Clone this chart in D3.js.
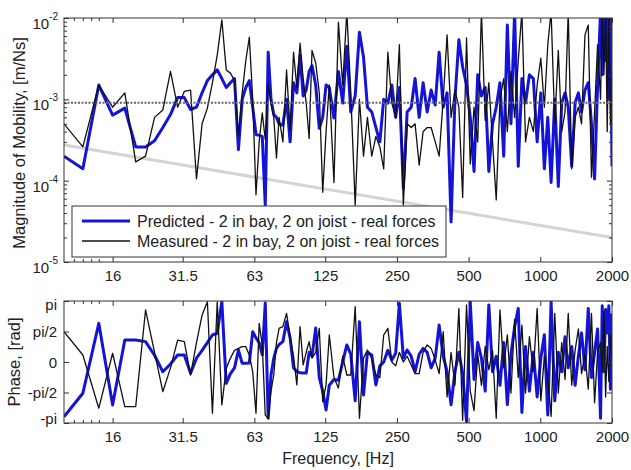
<!DOCTYPE html>
<html>
<head>
<meta charset="utf-8">
<script src="https://cdn.jsdelivr.net/npm/d3@7"></script>
<style>
  body { margin: 0; background: #fff; }
  text { font-family: "Liberation Sans", Arial, sans-serif; fill: #222; }
</style>
</head>
<body>
<div id="chart"></div>
<script>
// frequency grid, Hz
var freq = [10,12,14,16,18,20,22,24,26,28,30,32,34,36,38,40,42,44,46,48,50,52,
  54,56,58,60,62,64,66,68,70,72,74,76,78,80,83,86,89,92,95,98,101,104,107,110,114,118,122,126,130,
  136,142,148,154,160,167,174,181,188,196,204,212,220,229,238,247,256,266,276,287,298,310,322,335,348,
  362,376,391,406,422,438,455,472,490,508,527,546,566,587,608,630,653,677,702,727,753,780,808,837,867,
  900,935,970,1005,1040,1075,1110,1150,1190,1230,1270,1310,1355,1400,1445,1490,1540,1590,1640,1690,1740,1790,1820,1850,1880,1910,1940,1970,2000];

// mobility magnitude, m/Ns
var magPredicted = [2.0e-4,1.4e-4,1.5e-3,6.4e-4,7.8e-4,2.6e-4,2.6e-4,3.1e-4,4.5e-4,6.5e-4,1.05e-3,1.05e-3,7.5e-4,8.0e-4,1.2e-3,1.7e-3,2.0e-3,2.3e-3,1.8e-3,1.4e-3,1.6e-3,1.8e-3,
  2.4e-4,1.0e-3,1.4e-3,1.7e-3,8.0e-4,3.7e-4,3.6e-4,3.5e-4,5.0e-5,3.8e-3,1.0e-3,6.5e-4,6.0e-4,5.0e-4,4.8e-4,1.0e-3,3.0e-4,1.6e-3,1.2e-3,3.5e-3,1.1e-3,1.3e-3,2.2e-3,2.6e-3,1.5e-3,4.4e-4,6.0e-4,1.5e-3,1.4e-3,
  5.9e-4,2.2e-3,9.0e-4,4.5e-3,7.0e-4,1.1e-3,6.7e-3,3.3e-3,8.0e-4,7.0e-4,4.5e-4,3.0e-4,1.0e-3,9.0e-4,1.5e-3,6.0e-4,1.4e-3,8.0e-5,7.0e-4,8.0e-4,1.8e-3,6.0e-4,1.6e-3,7.0e-4,1.3e-3,
  8.5e-4,3.8e-3,8.0e-4,1.2e-3,3.1e-5,1.0e-3,5.4e-3,2.5e-3,1.5e-3,6.0e-4,1.3e-4,2.0e-3,1.1e-3,1.4e-3,1.3e-4,5.0e-4,8.0e-4,1.6e-3,2.0e-4,8.2e-3,5.0e-4,1.2e-2,1.5e-4,1.8e-3,9.0e-4,
  2.0e-3,1.8e-3,3.0e-4,1.2e-3,1.4e-4,6.0e-4,9.5e-5,1.0e-3,8.5e-5,9.0e-4,1.2e-3,8.0e-4,1.5e-4,9.0e-4,1.2e-3,7.0e-4,1.3e-3,1.6e-3,5.0e-4,1.05e-4,1.5e-3,1.2e-2,2.0e-3,1.2e-2,3.0e-3,1.2e-2,1.0e-3,1.2e-2,1.5e-4];

var magMeasured = [5.0e-4,2.6e-4,1.5e-3,8.0e-4,1.2e-3,1.7e-4,2.0e-4,6.0e-4,7.4e-4,2.2e-3,8.0e-4,1.25e-3,1.3e-3,1.05e-4,5.0e-4,7.8e-4,1.6e-3,3.5e-3,9.5e-3,2.3e-3,2.1e-3,1.7e-3,
  3.5e-4,1.2e-3,3.0e-3,5.8e-3,1.0e-3,6.7e-5,3.0e-4,6.8e-4,3.2e-4,1.5e-3,9.0e-4,6.0e-4,1.9e-4,6.0e-4,3.0e-4,2.3e-3,4.2e-4,3.8e-3,1.4e-3,4.9e-3,1.8e-3,9.0e-4,3.3e-4,4.0e-3,2.8e-3,1.2e-3,7.2e-5,4.0e-4,1.5e-3,
  9.5e-5,8.9e-3,1.5e-3,1.2e-2,1.2e-3,5.0e-5,1.0e-3,2.0e-4,6.0e-4,2.0e-4,3.5e-4,2.6e-4,1.4e-4,3.8e-3,9.0e-4,6.0e-4,4.7e-3,5.0e-5,5.0e-4,4.5e-4,5.0e-4,1.55e-4,4.0e-4,4.5e-4,4.5e-4,
  3.0e-4,2.0e-4,1.0e-3,6.2e-3,6.0e-4,1.3e-3,8.0e-4,6.2e-5,5.7e-3,1.6e-4,8.0e-4,3.0e-4,1.2e-2,5.5e-4,1.6e-3,3.0e-4,5.8e-5,1.0e-3,1.8e-3,4.0e-4,2.2e-3,6.0e-4,3.0e-3,1.2e-2,3.0e-4,
  6.0e-4,4.0e-4,1.5e-3,3.2e-3,8.0e-4,4.7e-3,1.2e-2,5.0e-4,4.0e-3,4.0e-4,7.0e-4,1.2e-2,1.4e-4,6.0e-4,8.0e-4,5.0e-4,6.2e-3,8.2e-3,1.1e-4,7.0e-4,4.7e-3,1.0e-3,1.2e-2,2.0e-3,1.2e-2,4.0e-4,1.2e-2,5.0e-4,2.0e-3];

// phase, rad
var phasePredicted = [-2.82,-1.61,1.99,-2.21,1.13,1.13,1.05,0.35,-0.50,-0.10,0.36,0.36,-0.58,0.20,0.60,1.00,1.39,1.48,3.10,-1.10,-0.60,-0.30,
  0.62,-0.07,-0.07,-0.05,1.56,1.24,1.00,0.36,3.04,-2.90,-0.67,0.20,0.70,0.90,1.05,2.07,1.24,-0.30,-0.50,-0.55,-0.57,-0.57,0.50,0.30,1.75,-0.80,-1.50,-2.47,-1.20,
  -0.90,-0.94,0.00,0.88,0.40,-2.00,2.07,-1.70,0.50,0.36,-1.18,-0.20,0.00,0.60,0.10,0.45,3.02,0.20,0.62,0.30,-0.50,0.40,0.70,0.50,-0.30,
  0.20,1.90,0.30,-0.50,-2.20,-0.50,0.50,-0.60,-3.07,3.10,-0.90,1.00,0.20,-1.50,2.94,-0.50,0.30,-1.20,1.00,-2.20,0.40,1.80,2.76,-2.60,0.80,
  -1.50,0.50,-1.80,0.20,1.40,-2.73,3.10,-2.00,0.50,-0.50,1.30,-0.30,0.80,-1.20,0.30,1.50,-0.40,2.76,-0.80,0.50,1.70,-2.90,2.90,-0.50,2.70,1.50,2.90,-1.40,2.50];

var phaseMeasured = [1.56,0.36,-2.38,0.45,-2.30,-2.30,2.68,0.50,-1.53,-0.30,1.13,1.05,-0.67,1.00,2.42,3.10,-2.64,3.10,-2.21,-0.33,0.20,0.60,
  0.70,0.79,0.79,0.36,-0.50,-2.64,1.99,0.88,-2.73,-2.90,-1.50,-0.67,1.00,1.73,1.82,2.50,1.30,0.30,-1.18,1.82,-0.15,0.50,1.05,0.20,0.50,1.73,-2.04,-1.18,1.39,
  -0.80,-1.34,0.30,-0.67,-0.67,2.85,-2.90,0.20,0.62,0.20,-0.67,-0.80,1.39,1.73,0.00,-0.20,0.50,0.00,0.30,-0.15,-0.60,-0.60,0.50,0.88,0.70,
  0.10,-0.60,1.56,-1.80,0.50,-1.20,2.76,-3.00,2.94,-1.50,-2.50,0.40,-1.20,0.80,-0.40,0.60,-2.90,2.68,-0.30,1.40,-1.60,2.20,-0.80,1.90,-1.60,
  1.30,-0.50,2.76,-2.00,0.30,-0.80,-2.80,2.50,-1.60,1.00,-0.90,2.50,-1.20,0.60,1.70,-0.60,0.40,-1.40,2.50,-2.10,0.50,1.00,-0.50,2.60,-1.80,0.80,-1.00,1.40,0.30];

// reference (mass-law style) line and mean level
var refFreq = [10, 2000];
var refMag = [2.75e-4, 2.0e-5];
var meanMag = 9.1e-4;

var freqTicks = [16, 31.5, 63, 125, 250, 500, 1000, 2000];
var freqTickLabels = ["16", "31.5", "63", "125", "250", "500", "1000", "2000"];
var freqMinorTicks = [11, 12, 13, 14];
var magTicks = [1e-2, 1e-3, 1e-4, 1e-5];
var magTickExp = ["-2", "-3", "-4", "-5"];
var phaseTicks = [Math.PI, Math.PI / 2, 0, -Math.PI / 2, -Math.PI];
var phaseTickLabels = ["pi", "pi/2", "0", "-pi/2", "-pi"];
var legendLabels = ["Predicted - 2 in bay, 2 on joist - real forces",
                    "Measured - 2 in bay, 2 on joist - real forces"];

var svgWidth = 631, svgHeight = 470;
var left = 64, right = 612;
var magTop = 18, magBottom = 262;
var phTop = 301, phBottom = 423;
var blue = "#1414d6", black = "#111";

var svg = d3.select("#chart").append("svg")
  .attr("width", svgWidth)
  .attr("height", svgHeight);

var x = d3.scaleLog().domain([10, 2000]).range([left, right]);
var yMag = d3.scaleLog().domain([1e-5, 1e-2]).range([magBottom, magTop]);
var yPh = d3.scaleLinear().domain([-Math.PI, Math.PI]).range([phBottom, phTop]);

var defs = svg.append("defs");
defs.append("clipPath").attr("id", "clipMag").append("rect")
  .attr("x", left).attr("y", magTop).attr("width", right - left).attr("height", magBottom - magTop);
defs.append("clipPath").attr("id", "clipPh").append("rect")
  .attr("x", left).attr("y", phTop).attr("width", right - left).attr("height", phBottom - phTop);

function series(vals) {
  return freq.map(function(f, i) { return {f: f, v: vals[i]}; });
}

// ---- magnitude plot ----
var magG = svg.append("g").attr("clip-path", "url(#clipMag)");
var magLine = d3.line().x(d => x(d.f)).y(d => yMag(d.v));

magG.append("path")
  .datum(refFreq.map((f, i) => ({f: f, v: refMag[i]})))
  .attr("d", magLine)
  .attr("fill", "none").attr("stroke", "#d4d4d4").attr("stroke-width", 3);

magG.append("path").datum(series(magPredicted)).attr("d", magLine)
  .attr("fill", "none").attr("stroke", blue).attr("stroke-width", 3).attr("stroke-linejoin", "round");
magG.append("path").datum(series(magMeasured)).attr("d", magLine)
  .attr("fill", "none").attr("stroke", black).attr("stroke-width", 1.3).attr("stroke-linejoin", "round");

magG.append("line")
  .attr("x1", left).attr("x2", right)
  .attr("y1", yMag(meanMag)).attr("y2", yMag(meanMag))
  .attr("stroke", "#666").attr("stroke-width", 2).attr("stroke-dasharray", "2,1.5");

// ---- phase plot ----
var phG = svg.append("g").attr("clip-path", "url(#clipPh)");
var phLine = d3.line().x(d => x(d.f)).y(d => yPh(d.v));
phG.append("path").datum(series(phasePredicted)).attr("d", phLine)
  .attr("fill", "none").attr("stroke", blue).attr("stroke-width", 3).attr("stroke-linejoin", "round");
phG.append("path").datum(series(phaseMeasured)).attr("d", phLine)
  .attr("fill", "none").attr("stroke", black).attr("stroke-width", 1.3).attr("stroke-linejoin", "round");

// ---- axes ----
function noDomain(g) { g.select(".domain").remove(); g.selectAll(".tick line").attr("stroke", "#333"); }

function xAxes(top, bottom) {
  svg.append("g").attr("transform", `translate(0,${bottom})`)
    .call(d3.axisBottom(x).tickValues(freqTicks).tickSizeInner(-5).tickSizeOuter(0).tickPadding(8)
      .tickFormat((d, i) => freqTickLabels[i]))
    .call(noDomain)
    .call(g => g.selectAll("text").attr("font-size", 15).attr("fill", "#222"));
  svg.append("g").attr("transform", `translate(0,${top})`)
    .call(d3.axisTop(x).tickValues(freqTicks).tickSizeInner(-5).tickSizeOuter(0).tickFormat(""))
    .call(noDomain);
  svg.append("g").attr("transform", `translate(0,${bottom})`)
    .call(d3.axisBottom(x).tickValues(freqMinorTicks).tickSizeInner(-3).tickSizeOuter(0).tickFormat(""))
    .call(noDomain);
  svg.append("g").attr("transform", `translate(0,${top})`)
    .call(d3.axisTop(x).tickValues(freqMinorTicks).tickSizeInner(-3).tickSizeOuter(0).tickFormat(""))
    .call(noDomain);
}
xAxes(magTop, magBottom);
xAxes(phTop, phBottom);

var magMinor = yMag.ticks().filter(v => magTicks.indexOf(v) < 0);

var magLeft = svg.append("g").attr("transform", `translate(${left},0)`)
  .call(d3.axisLeft(yMag).tickValues(magTicks).tickSizeInner(-5).tickSizeOuter(0).tickFormat(""))
  .call(noDomain);
magLeft.selectAll(".tick").append("text")
  .attr("x", -6).attr("y", 10.5).attr("text-anchor", "end").attr("font-size", 15).attr("fill", "#222")
  .each(function(d, i) {
    var t = d3.select(this);
    t.append("tspan").text("10");
    t.append("tspan").attr("dy", -9).attr("font-size", 10).text(magTickExp[i]);
  });
svg.append("g").attr("transform", `translate(${right},0)`)
  .call(d3.axisRight(yMag).tickValues(magTicks).tickSizeInner(-5).tickSizeOuter(0).tickFormat(""))
  .call(noDomain);
svg.append("g").attr("transform", `translate(${left},0)`)
  .call(d3.axisLeft(yMag).tickValues(magMinor).tickSizeInner(-3).tickSizeOuter(0).tickFormat(""))
  .call(noDomain);
svg.append("g").attr("transform", `translate(${right},0)`)
  .call(d3.axisRight(yMag).tickValues(magMinor).tickSizeInner(-3).tickSizeOuter(0).tickFormat(""))
  .call(noDomain);

var phLeft = svg.append("g").attr("transform", `translate(${left},0)`)
  .call(d3.axisLeft(yPh).tickValues(phaseTicks).tickSizeInner(-5).tickSizeOuter(0).tickFormat(""))
  .call(noDomain);
phLeft.selectAll(".tick").append("text")
  .attr("x", -7).attr("text-anchor", "end").attr("font-size", 15).attr("fill", "#222")
  .attr("y", d => Math.max(phTop + 3, Math.min(phBottom - 5, yPh(d))) - yPh(d) + 5)
  .text((d, i) => phaseTickLabels[i]);
svg.append("g").attr("transform", `translate(${right},0)`)
  .call(d3.axisRight(yPh).tickValues(phaseTicks).tickSizeInner(-5).tickSizeOuter(0).tickFormat(""))
  .call(noDomain);

// frames
[[magTop, magBottom], [phTop, phBottom]].forEach(function(p) {
  svg.append("rect").attr("x", left).attr("y", p[0])
    .attr("width", right - left).attr("height", p[1] - p[0])
    .attr("fill", "none").attr("stroke", "#333").attr("stroke-width", 1);
});

// legend
var leg = svg.append("g");
leg.append("rect").attr("x", 72).attr("y", 206).attr("width", 374).attr("height", 51)
  .attr("fill", "#fff").attr("stroke", "#333").attr("stroke-width", 1);
[[blue, 3], [black, 1.3]].forEach(function(s, i) {
  var yy = 221 + i * 20;
  leg.append("line").attr("x1", 82).attr("x2", 130).attr("y1", yy).attr("y2", yy)
    .attr("stroke", s[0]).attr("stroke-width", s[1]);
  leg.append("text").attr("x", 137).attr("y", yy + 5.5).attr("font-size", 16)
    .text(legendLabels[i]);
});

// axis titles
svg.append("text").attr("transform", "translate(24.5,143) rotate(-90)")
  .attr("text-anchor", "middle").attr("font-size", 16.5)
  .text("Magnitude of Mobility, [m/Ns]");
svg.append("text").attr("transform", "translate(19.5,362) rotate(-90)")
  .attr("text-anchor", "middle").attr("font-size", 16.5)
  .text("Phase, [rad]");
svg.append("text").attr("x", 338).attr("y", 463.5)
  .attr("text-anchor", "middle").attr("font-size", 16)
  .text("Frequency, [Hz]");
</script>
</body>
</html>
